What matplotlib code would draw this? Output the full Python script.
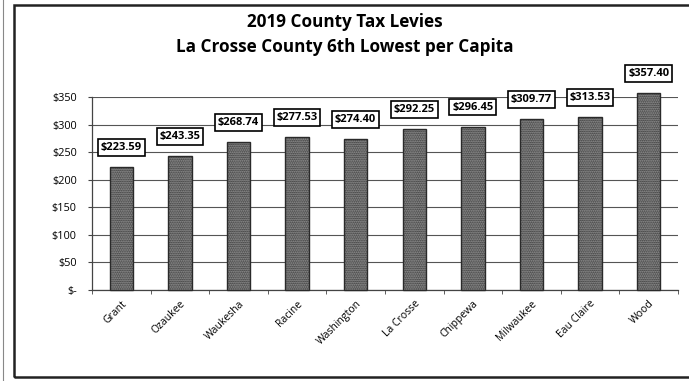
import matplotlib.pyplot as plt
from matplotlib.patches import Rectangle
from matplotlib.lines import Line2D

counties = ['Grant', 'Ozaukee', 'Waukesha', 'Racine', 'Washington',
            'La Crosse', 'Chippewa', 'Milwaukee', 'Eau Claire', 'Wood']
levies = [223.59, 243.35, 268.74, 277.53, 274.40,
          292.25, 296.45, 309.77, 313.53, 357.40]
yticks = [0, 50, 100, 150, 200, 250, 300, 350]

plt.rcParams['font.family'] = ['Open Sans', 'DejaVu Sans']
plt.rcParams['hatch.linewidth'] = 0.8

fig = plt.figure(figsize=(6.89, 3.81), dpi=100)
ax = fig.add_axes([0.1335, 0.2388, 0.8505, 0.5066])

x = list(range(len(counties)))
bars = ax.bar(x, levies, width=0.4, color='#969696', edgecolor='#2a2a2a',
              hatch='.........', linewidth=1.0, zorder=3, clip_on=False)

for xi, v in zip(x, levies):
    ax.annotate('${:.2f}'.format(v), (xi, v), xytext=(0, 14),
                textcoords='offset points', ha='center', va='center',
                fontsize=8, fontweight='bold', zorder=5, annotation_clip=False,
                bbox=dict(boxstyle='square,pad=0.25', fc='white', ec='black', lw=1.2))

ax.set_xlim(-0.5, len(counties) - 0.5)
ax.set_ylim(0, 350)
ax.set_yticks(yticks)
ax.set_yticklabels(['$-' if t == 0 else '${}'.format(t) for t in yticks], fontsize=7.8)
ax.yaxis.grid(True, color='#555555', lw=0.8, zorder=0)

ax.set_xticks(x)
ax.set_xticklabels(counties, rotation=45, ha='right', rotation_mode='anchor', fontsize=7.5)
ax.tick_params(axis='x', length=0, pad=6)
ax.set_xticks([i + 0.5 for i in range(-1, len(counties))], minor=True)
ax.tick_params(axis='x', which='minor', length=3, color='#444444')
ax.tick_params(axis='y', length=3, color='#444444', pad=8)

for s in ['top', 'right']:
    ax.spines[s].set_visible(False)
for s in ['left', 'bottom']:
    ax.spines[s].set_color('#444444')
    ax.spines[s].set_linewidth(0.9)

fig.text(0.501, 0.942, '2019 County Tax Levies', ha='center', va='center',
         fontsize=12.3, fontweight='bold')
fig.text(0.501, 0.876, 'La Crosse County 6th Lowest per Capita', ha='center', va='center',
         fontsize=12.3, fontweight='bold')

# outer frame
fig.patches.append(Rectangle((14 / 689, 4 / 381), 1.0, 1 - 9 / 381, transform=fig.transFigure,
                             fill=False, ec='#222222', lw=1.8))
fig.lines.append(Line2D([3 / 689, 3 / 689], [0, 1], transform=fig.transFigure,
                        color='#888888', lw=0.8))

fig.savefig('out.png', dpi=100)
